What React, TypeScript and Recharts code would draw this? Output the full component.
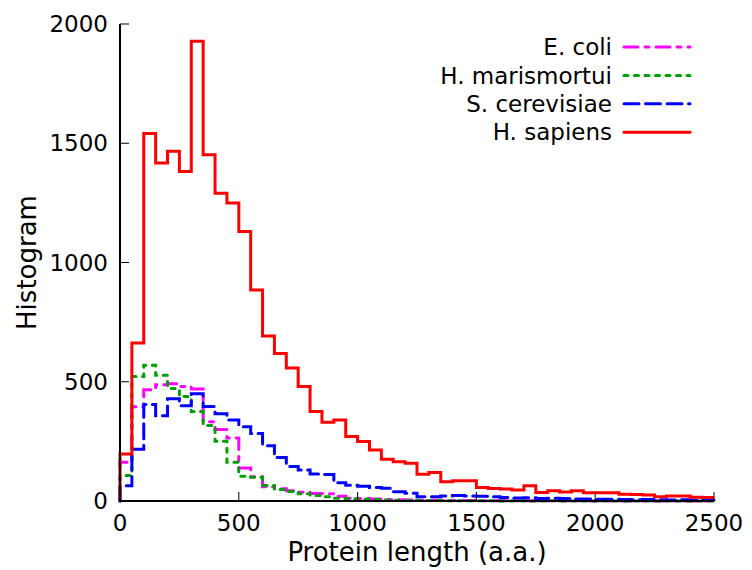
import React from 'react';
import { LineChart, Line, XAxis, YAxis, Legend } from 'recharts';

// Bin edges (protein length, a.a.), bin width 50
const binEdges = [
  0, 50, 100, 150, 200, 250, 300, 350, 400, 450,
  500, 550, 600, 650, 700, 750, 800, 850, 900, 950,
  1000, 1050, 1100, 1150, 1200, 1250, 1300, 1350, 1400, 1450,
  1500, 1550, 1600, 1650, 1700, 1750, 1800, 1850, 1900, 1950,
  2000, 2050, 2100, 2150, 2200, 2250, 2300, 2350, 2400, 2450,
  2500,
];

// Histogram counts per bin (bin i spans binEdges[i]..binEdges[i+1])
const eColi = [
  163, 395, 466, 487, 492, 480, 470, 332, 300, 264,
  138, 102, 60, 51, 43, 37, 31, 30, 20, 12,
  10, 8, 6, 5, 4, 3, 3, 2, 2, 2,
  1, 1, 1, 1, 1, 1, 1, 1, 1, 0,
  1, 0, 0, 1, 0, 0, 0, 0, 0, 0,
];
const hMarismortui = [
  107, 522, 569, 527, 472, 438, 375, 317, 251, 163,
  104, 100, 65, 48, 40, 30, 23, 18, 12, 9,
  7, 6, 4, 3, 3, 2, 2, 1, 1, 1,
  1, 1, 0, 1, 0, 0, 1, 0, 0, 0,
  0, 0, 0, 0, 0, 0, 0, 0, 0, 0,
];
const sCerevisiae = [
  64, 217, 405, 357, 429, 399, 450, 396, 366, 340,
  311, 283, 232, 182, 145, 130, 113, 111, 76, 66,
  62, 57, 53, 39, 32, 18, 18, 21, 23, 21,
  20, 18, 15, 13, 14, 10, 12, 10, 8, 8,
  7, 7, 6, 5, 6, 5, 4, 5, 4, 4,
];
const hSapiens = [
  197, 663, 1541, 1417, 1466, 1382, 1928, 1452, 1290, 1250,
  1130, 885, 692, 618, 558, 480, 375, 330, 340, 270,
  249, 214, 175, 165, 158, 112, 120, 81, 85, 85,
  57, 52, 50, 46, 64, 36, 43, 38, 43, 35,
  35, 35, 28, 27, 25, 18, 21, 21, 16, 15,
];

const xTicks = [0, 500, 1000, 1500, 2000, 2500];
const yTicks = [0, 500, 1000, 1500, 2000];

const seriesNames = ['E. coli', 'H. marismortui', 'S. cerevisiae', 'H. sapiens'];

const data = binEdges.map((x, i) => ({
  x,
  ecoli: i === 0 ? 0 : eColi[i - 1],
  hmar: i === 0 ? 0 : hMarismortui[i - 1],
  scer: i === 0 ? 0 : sCerevisiae[i - 1],
  hsap: i === 0 ? 0 : hSapiens[i - 1],
}));

const FONT = 'DejaVu Sans';

const LegendBox = (props: any) => {
  const items = [...(props.payload || [])].sort(
    (a: any, b: any) => seriesNames.indexOf(a.value) - seriesNames.indexOf(b.value)
  );
  return (
    <svg width={300} height={120} style={{ display: 'block', overflow: 'visible' }}>
      {items.map((it: any, i: number) => {
        const y = 17 + i * 28.4;
        return (
          <g key={it.value}>
            <text
              x={212}
              y={y}
              dy="0.36em"
              textAnchor="end"
              fontFamily={FONT}
              fontSize={23}
              fill="#000"
            >
              {it.value}
            </text>
            <line
              x1={224}
              x2={290}
              y1={y}
              y2={y}
              stroke={it.color}
              strokeWidth={3}
              strokeLinecap="round"
              strokeDasharray={it.payload?.strokeDasharray}
            />
          </g>
        );
      })}
    </svg>
  );
};

export default function App() {
  const tickStyle = { fill: '#000', fontSize: 23, fontFamily: FONT };
  const titleStyle = { fill: '#000', fontSize: 26, fontFamily: FONT };
  const axisLine = { stroke: '#000', strokeWidth: 2 };
  const tickLine = { stroke: '#000', strokeWidth: 1 };
  return (
    <div style={{ position: 'absolute', left: 0, top: 0, background: '#fff' }}>
      <LineChart
        width={752}
        height={570}
        data={data}
        margin={{ top: 24, right: 38, bottom: 0, left: 0 }}
        style={{ fontFamily: FONT }}
      >
        <XAxis
          dataKey="x"
          type="number"
          domain={[0, 2500]}
          ticks={xTicks}
          interval={0}
          height={69}
          tickSize={-9}
          tickMargin={23}
          tick={tickStyle}
          axisLine={axisLine}
          tickLine={tickLine}
          label={{
            value: 'Protein length (a.a.)',
            position: 'insideBottom',
            offset: 9,
            style: titleStyle,
          }}
        />
        <XAxis
          xAxisId="top"
          dataKey="x"
          type="number"
          orientation="top"
          domain={[0, 2500]}
          ticks={xTicks}
          interval={0}
          height={0}
          tickSize={-9}
          tick={false}
          axisLine={axisLine}
          tickLine={tickLine}
        />
        <YAxis
          type="number"
          domain={[0, 2000]}
          ticks={yTicks}
          interval={0}
          width={120}
          tickSize={-9}
          tickMargin={21}
          tick={tickStyle}
          axisLine={axisLine}
          tickLine={tickLine}
          label={{
            value: 'Histogram',
            angle: -90,
            position: 'insideLeft',
            offset: 27,
            style: { ...titleStyle, textAnchor: 'middle' },
          }}
        />
        <YAxis
          yAxisId="right"
          type="number"
          orientation="right"
          domain={[0, 2000]}
          ticks={yTicks}
          interval={0}
          width={0}
          tickSize={-9}
          tick={false}
          axisLine={axisLine}
          tickLine={tickLine}
        />
        <Legend
          layout="horizontal"
          verticalAlign="middle"
          align="center"
          content={<LegendBox />}
          wrapperStyle={{ left: 400, top: 30, width: 300, height: 120 }}
        />
        <Line
          name="E. coli"
          dataKey="ecoli"
          type="stepBefore"
          stroke="#ff00ff"
          strokeWidth={3}
          strokeDasharray="14 7 4 7"
          strokeLinecap="round"
          dot={false}
          activeDot={false}
          isAnimationActive={false}
        />
        <Line
          name="H. marismortui"
          dataKey="hmar"
          type="stepBefore"
          stroke="#00a000"
          strokeWidth={3}
          strokeDasharray="4 6.5"
          strokeLinecap="round"
          dot={false}
          activeDot={false}
          isAnimationActive={false}
        />
        <Line
          name="S. cerevisiae"
          dataKey="scer"
          type="stepBefore"
          stroke="#0000ff"
          strokeWidth={3}
          strokeDasharray="15 6.5"
          strokeLinecap="round"
          dot={false}
          activeDot={false}
          isAnimationActive={false}
        />
        <Line
          name="H. sapiens"
          dataKey="hsap"
          type="stepBefore"
          stroke="#ff0000"
          strokeWidth={3}
          dot={false}
          activeDot={false}
          isAnimationActive={false}
        />
      </LineChart>
    </div>
  );
}
